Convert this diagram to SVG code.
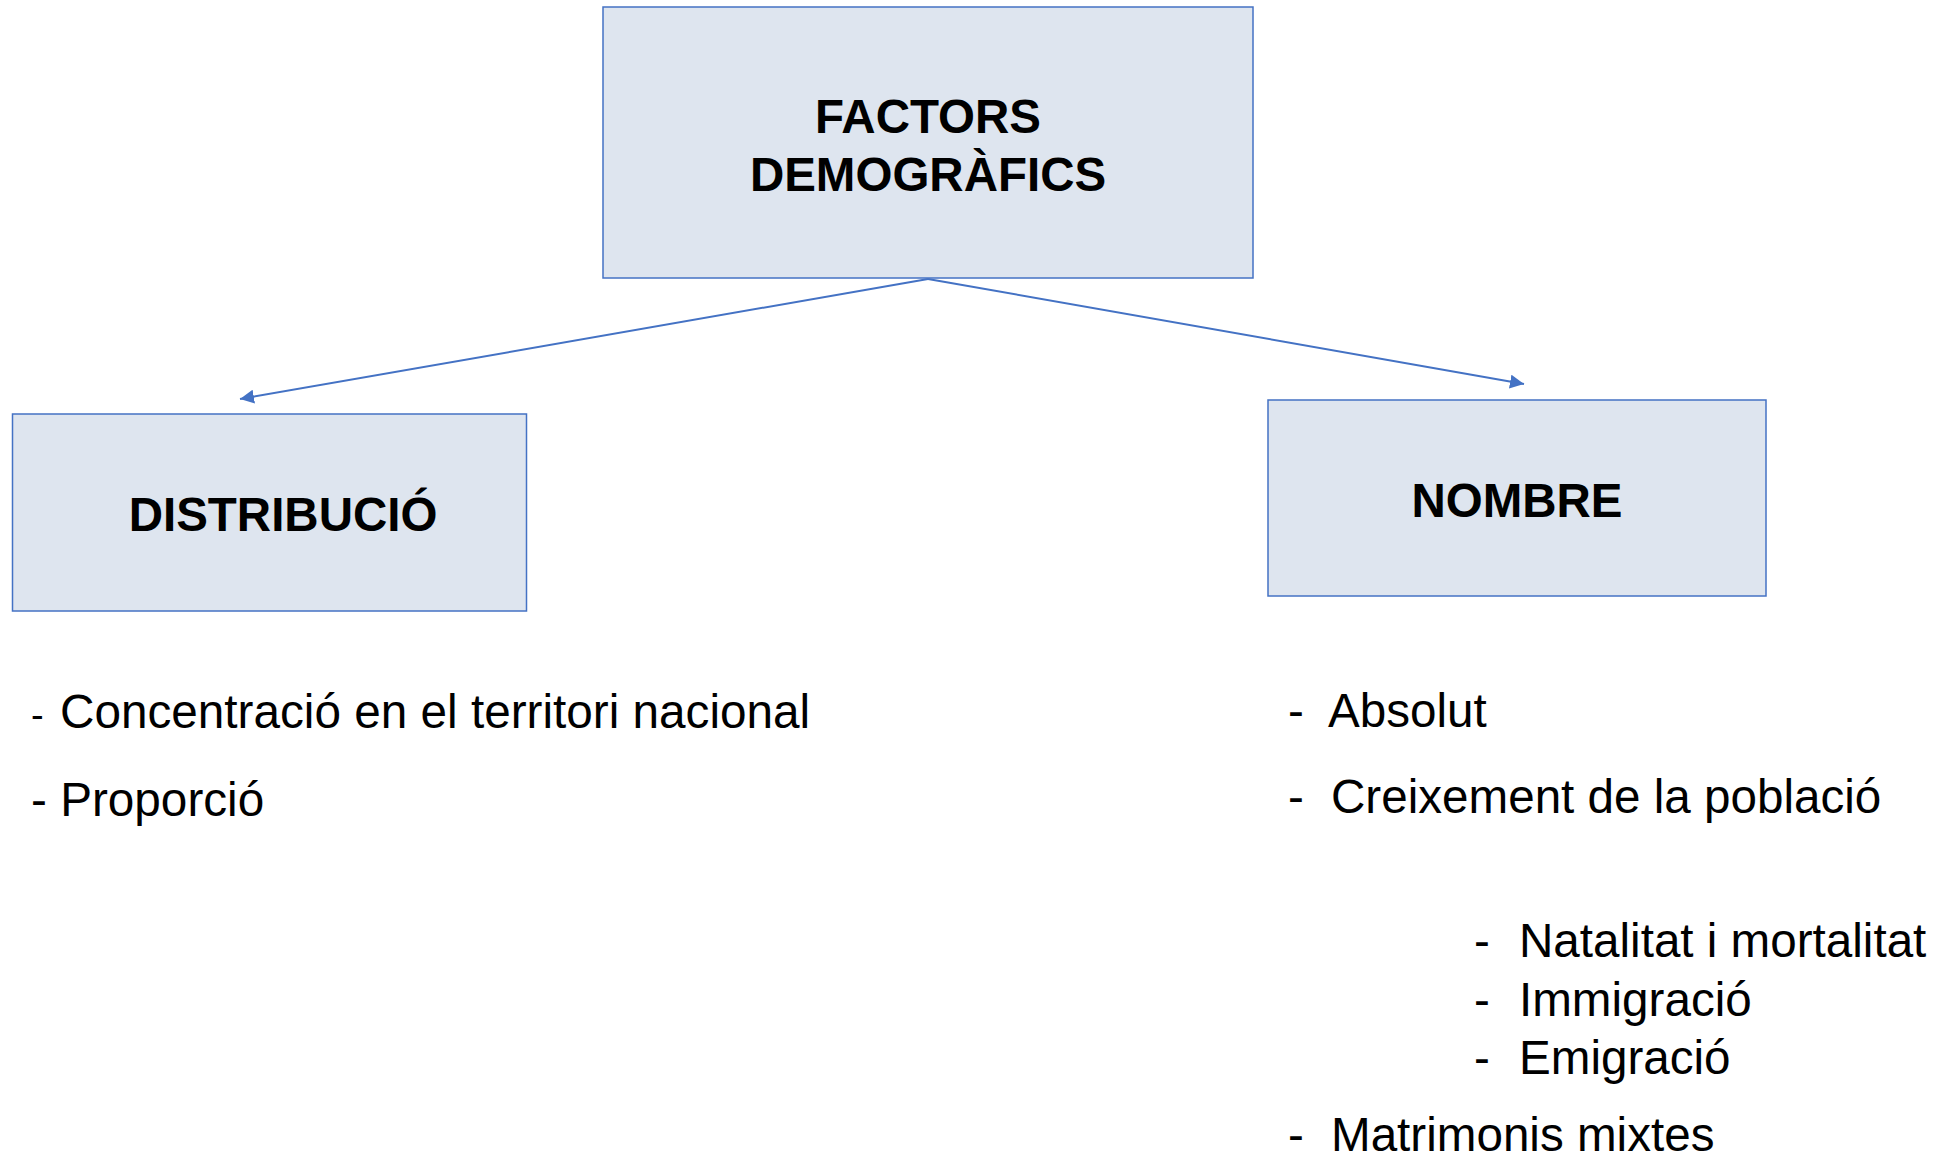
<svg xmlns="http://www.w3.org/2000/svg" width="1945" height="1163" viewBox="0 0 1945 1163">
<style>
.box{fill:#DEE5EF;stroke:#4472C4;stroke-width:1.5}
.title{font-family:"Liberation Sans",Arial,sans-serif;font-weight:bold;font-size:47.5px;fill:#000;text-anchor:middle}
.item{font-family:"Liberation Sans",Arial,sans-serif;font-size:47.6px;fill:#000}
.conn{stroke:#4472C4;stroke-width:2;fill:none}
</style>
<defs>
<marker id="arr" viewBox="0 0 10 10" refX="10" refY="5" markerWidth="7" markerHeight="7" markerUnits="strokeWidth" orient="auto">
<path d="M0,0 L10,5 L0,10 z" fill="#4472C4"/>
</marker>
</defs>
<rect width="1945" height="1163" fill="#fff"/>
<g id="connectors">
<line class="conn" x1="928" y1="279" x2="240" y2="399" marker-end="url(#arr)"/>
<line class="conn" x1="928" y1="279" x2="1524" y2="384" marker-end="url(#arr)"/>
</g>
<g id="factors">
<rect class="box" x="603" y="7" width="650" height="271"/>
<text class="title" x="928" y="133">FACTORS</text>
<text class="title" x="928" y="191">DEMOGRÀFICS</text>
</g>
<g id="distribucio">
<rect class="box" x="12.5" y="414" width="514" height="197"/>
<text class="title" x="283" y="531">DISTRIBUCIÓ</text>
</g>
<g id="nombre">
<rect class="box" x="1268" y="400" width="498" height="196"/>
<text class="title" x="1517" y="517">NOMBRE</text>
</g>
<g id="distribucio-list">
<text class="item" x="31" y="728" style="font-size:38px">-</text>
<text class="item" x="60" y="728" style="font-size:47.7px">Concentració en el territori nacional</text>
<text class="item" x="31" y="816" style="font-size:47.7px">- Proporció</text>
</g>
<g id="nombre-list">
<text class="item" x="1288" y="727">-</text>
<text class="item" x="1328" y="727">Absolut</text>
<text class="item" x="1288" y="813">-</text>
<text class="item" x="1331" y="813">Creixement de la població</text>
<text class="item" x="1474" y="957">-</text>
<text class="item" x="1519" y="957">Natalitat i mortalitat</text>
<text class="item" x="1474" y="1016">-</text>
<text class="item" x="1519" y="1016">Immigració</text>
<text class="item" x="1474" y="1074">-</text>
<text class="item" x="1519" y="1074">Emigració</text>
<text class="item" x="1288" y="1151">-</text>
<text class="item" x="1331" y="1151">Matrimonis mixtes</text>
</g>
</svg>
